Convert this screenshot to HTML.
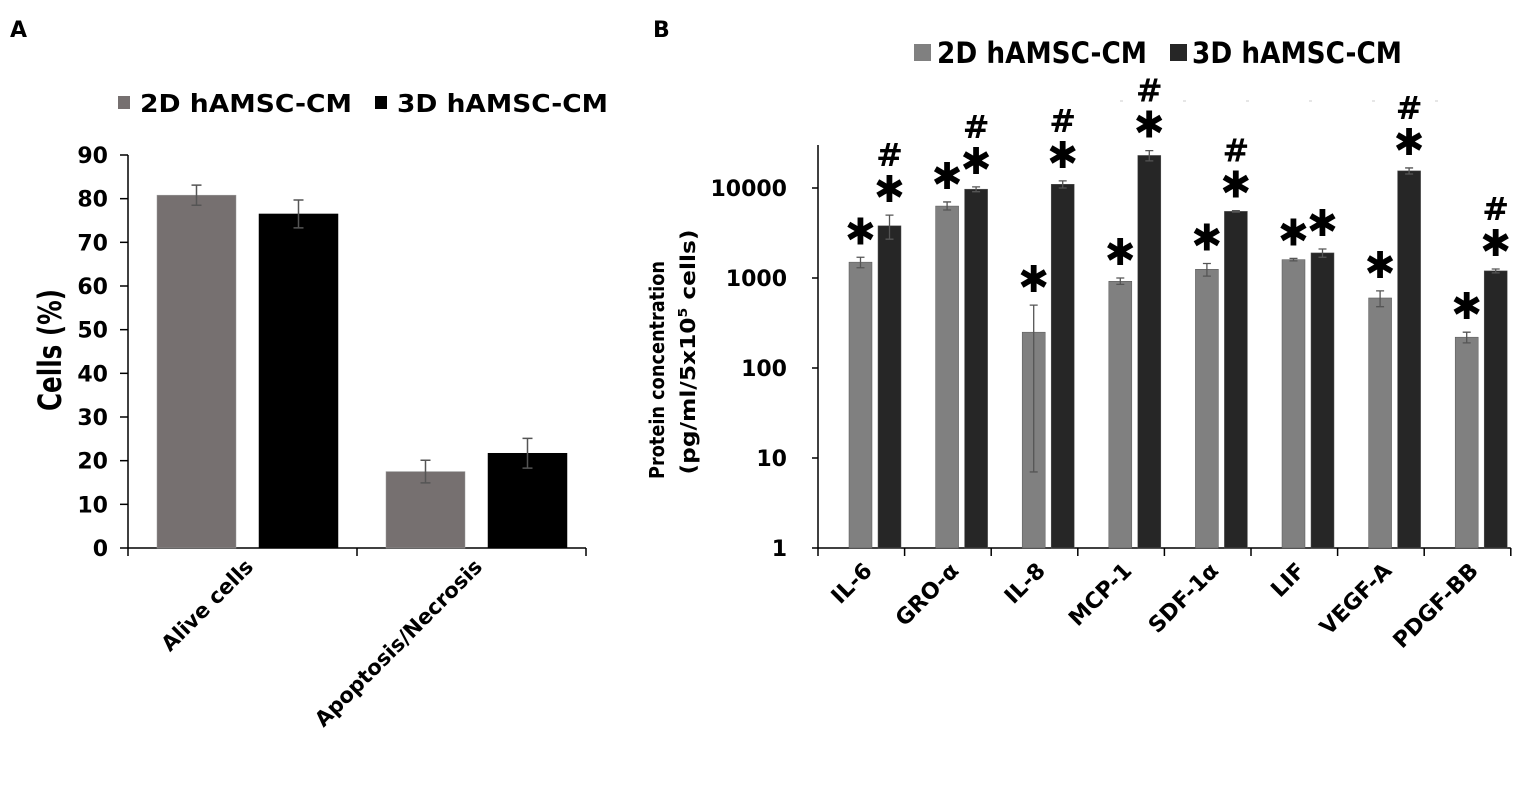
<!DOCTYPE html>
<html><head><meta charset="utf-8"><style>
body{margin:0;background:#fff;width:1535px;height:783px;overflow:hidden}
svg{font-family:"DejaVu Sans","Liberation Sans",sans-serif;font-weight:bold}
</style></head><body>
<svg id="s" width="1535" height="783">
<text x="10" y="37" font-size="22">A</text>
<text x="653" y="37" font-size="22">B</text>
<g>
<rect x="118" y="96" width="12" height="13" fill="#767070"/>
<text x="140" y="112" font-size="25" textLength="212" lengthAdjust="spacingAndGlyphs">2D hAMSC-CM</text>
<rect x="375" y="96" width="12" height="13" fill="#000"/>
<text x="397" y="112" font-size="25" textLength="211" lengthAdjust="spacingAndGlyphs">3D hAMSC-CM</text>
</g>
<g>
<rect x="914" y="44" width="17" height="17" fill="#808080"/>
<text x="937" y="63" font-size="29" textLength="210" lengthAdjust="spacingAndGlyphs">2D hAMSC-CM</text>
<rect x="1170" y="44" width="17" height="17" fill="#262626"/>
<text x="1192" y="63" font-size="29" textLength="210" lengthAdjust="spacingAndGlyphs">3D hAMSC-CM</text>
</g>
<text transform="translate(61,350) rotate(-90)" text-anchor="middle" font-size="32" textLength="122" lengthAdjust="spacingAndGlyphs">Cells (%)</text>
<text transform="translate(664,370) rotate(-90)" text-anchor="middle" font-size="20" textLength="218" lengthAdjust="spacingAndGlyphs">Protein concentration</text>
<text transform="translate(695,352) rotate(-90)" text-anchor="middle" font-size="20" textLength="245" lengthAdjust="spacingAndGlyphs">(pg/ml/5x10<tspan font-size="12" dy="-8">5</tspan><tspan dy="8"> cells)</tspan></text>
<g id="ga"></g><g id="gb"></g>
</svg>
<script>
const catsA=["Alive cells","Apoptosis/Necrosis"];
const a2d=[80.8,17.5];
const a3d=[76.5,21.7];
const a2dErr=[2.3,2.6];
const a3dErr=[3.2,3.4];
const ticksA=[0,10,20,30,40,50,60,70,80,90];

const catsB=["IL-6","GRO-α","IL-8","MCP-1","SDF-1α","LIF","VEGF-A","PDGF-BB"];
const b2d=[1500,6300,250,920,1250,1600,600,220];
const b3d=[3800,9700,11000,23000,5500,1900,15500,1200];
const b2dHi=[1700,7000,500,1000,1450,1650,720,250];
const b2dLo=[1300,5700,7,850,1050,1550,480,190];
const b3dHi=[5000,10300,12000,26000,5600,2100,16700,1260];
const b3dLo=[2700,9100,10000,20000,5400,1700,14300,1140];
const hashB=[1,1,1,1,1,0,1,1];
const ticksB=[1,10,100,1000,10000];

const NS="http://www.w3.org/2000/svg";
function mk(p,t,a,txt){const e=document.createElementNS(NS,t);for(const k in a)e.setAttribute(k,a[k]);if(txt!==undefined)e.textContent=txt;p.appendChild(e);return e;}
// Panel A
const ga=document.getElementById('ga');
const yA=v=>548-v*(548-155)/90;
const xA0=128,cwA=229;
mk(ga,'line',{x1:xA0,y1:155,x2:xA0,y2:548,stroke:'#000','stroke-width':1.5});
mk(ga,'line',{x1:xA0,y1:548,x2:xA0+2*cwA,y2:548,stroke:'#000','stroke-width':1.5});
ticksA.forEach(t=>{
 mk(ga,'line',{x1:xA0-8,y1:yA(t),x2:xA0,y2:yA(t),stroke:'#000','stroke-width':1.5});
 const l=mk(ga,'text',{x:xA0-20,y:yA(t)+8,'text-anchor':'end','font-size':22},t);
 
 
});
for(let i=0;i<=2;i++)mk(ga,'line',{x1:xA0+i*cwA,y1:548,x2:xA0+i*cwA,y2:556,stroke:'#000','stroke-width':1.5});
catsA.forEach((c,i)=>{
 const base=xA0+i*cwA;
 [[a2d,a2dErr,'#767070',29],[a3d,a3dErr,'#000',131]].forEach(([v,e,col,off],j)=>{
  const r=mk(ga,'rect',{x:base+off,y:yA(v[i]),width:79,height:548-yA(v[i]),fill:col,stroke:j?'#000':'#999','stroke-width':0.5});
  
  
  const cx=base+off+39.5;
  mk(ga,'path',{d:`M${cx},${yA(v[i]+e[i])}V${yA(v[i]-e[i])}M${cx-5},${yA(v[i]+e[i])}H${cx+5}M${cx-5},${yA(v[i]-e[i])}H${cx+5}`,stroke:'#555','stroke-width':1.5,fill:'none'});
 });
 const lx=base+cwA/2+12;
 const l=mk(ga,'text',{transform:`translate(${lx},${568}) rotate(-45)`,'text-anchor':'end','font-size':21},c);
 
 
});
// Panel B
const gb=document.getElementById('gb');
const yB=v=>548-Math.log10(v)*90;
const xB0=818,cwB=86.6;
mk(gb,'line',{x1:xB0,y1:145,x2:xB0,y2:548,stroke:'#000','stroke-width':1.5});
mk(gb,'line',{x1:xB0,y1:548,x2:xB0+8*cwB,y2:548,stroke:'#000','stroke-width':1.5});
mk(gb,'line',{x1:1120,y1:101,x2:1480,y2:101,stroke:'#ccc','stroke-width':1,'stroke-dasharray':'3 60'});
ticksB.forEach(t=>{
 mk(gb,'line',{x1:xB0-6,y1:yB(t),x2:xB0,y2:yB(t),stroke:'#000','stroke-width':1.5});
 const l=mk(gb,'text',{x:787,y:yB(t)+8,'text-anchor':'end','font-size':22},t);
 
 
});
for(let i=0;i<=8;i++)mk(gb,'line',{x1:xB0+i*cwB,y1:548,x2:xB0+i*cwB,y2:556,stroke:'#000','stroke-width':1.5});
catsB.forEach((c,i)=>{
 const base=xB0+i*cwB;
 [[b2d,b2dHi,b2dLo,'#808080',31],[b3d,b3dHi,b3dLo,'#262626',60]].forEach(([v,hi,lo,col,off],j)=>{
  const r=mk(gb,'rect',{x:base+off,y:yB(v[i]),width:23,height:548-yB(v[i]),fill:col,stroke:'#555','stroke-width':0.5});
  
  
  const cx=base+off+11.5;
  mk(gb,'path',{d:`M${cx},${yB(hi[i])}V${yB(lo[i])}M${cx-4},${yB(hi[i])}H${cx+4}M${cx-4},${yB(lo[i])}H${cx+4}`,stroke:'#555','stroke-width':1.3,fill:'none'});
  const sc=yB(hi[i])-25;
  const s=mk(gb,'text',{x:cx,y:sc+12,'text-anchor':'middle','font-size':37},'✱');
  
  
  if(j&&hashB[i]){
   const h=mk(gb,'text',{x:cx,y:sc-24,'text-anchor':'middle','font-size':32},'#');
   
   
  }
 });
 const lx=base+cwB/2+12;
 const l=mk(gb,'text',{transform:`translate(${lx},${572}) rotate(-45)`,'text-anchor':'end','font-size':22},c);
 
 
});
</script>
</body></html>
